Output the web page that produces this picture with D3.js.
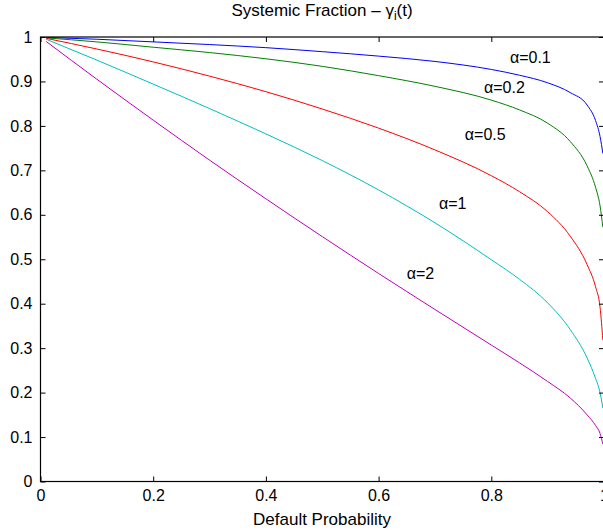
<!DOCTYPE html>
<html>
<head>
<meta charset="utf-8">
<script src="https://cdn.jsdelivr.net/npm/d3@7"></script>
<style>
  body { margin: 0; background: #fff; }
  svg text { font-family: "Liberation Sans", Arial, Helvetica, sans-serif; }
</style>
</head>
<body>
<svg width="603" height="531"></svg>
<script>
// default probability grid
var probs = [0.01, 0.1, 0.2, 0.3, 0.4, 0.5, 0.6, 0.7, 0.8, 0.85, 0.9, 0.94, 0.97, 0.985, 0.993, 0.998];

// systemic fraction for each alpha
var alpha01 = [0.999, 0.995, 0.989, 0.983, 0.976, 0.967, 0.957, 0.945, 0.927, 0.914, 0.897, 0.875, 0.847, 0.812, 0.776, 0.738];
var alpha02 = [0.998, 0.989, 0.977, 0.965, 0.951, 0.934, 0.913, 0.889, 0.858, 0.836, 0.806, 0.765, 0.710, 0.662, 0.620, 0.572];
var alpha05 = [0.997, 0.973, 0.944, 0.912, 0.877, 0.838, 0.795, 0.746, 0.688, 0.652, 0.607, 0.552, 0.488, 0.438, 0.392, 0.318];
var alpha1  = [0.995, 0.948, 0.894, 0.839, 0.782, 0.722, 0.656, 0.582, 0.499, 0.455, 0.402, 0.342, 0.278, 0.232, 0.200, 0.165];
var alpha2  = [0.990, 0.905, 0.813, 0.723, 0.636, 0.551, 0.468, 0.387, 0.307, 0.267, 0.225, 0.188, 0.150, 0.126, 0.108, 0.084];

var labels = ['\u03b1=0.1', '\u03b1=0.2', '\u03b1=0.5', '\u03b1=1', '\u03b1=2'];
var colors = ['#0000ff', '#008000', '#ff0000', '#00bfbf', '#bf00bf'];
// label anchor points in data units
var labelX = [0.833, 0.787, 0.753, 0.707, 0.65];
var labelY = [0.942, 0.873, 0.768, 0.614, 0.455];

var xTicks = [0, 0.2, 0.4, 0.6, 0.8, 1];
var yTicks = [0, 0.1, 0.2, 0.3, 0.4, 0.5, 0.6, 0.7, 0.8, 0.9, 1];

var series = [alpha01, alpha02, alpha05, alpha1, alpha2];

var svg = d3.select('svg');
// note: "top" is taken by window.top, so use plot* names
var plotL = 40.5, plotR = 604, plotT = 37, plotB = 481.5;

var x = d3.scaleLinear().domain([0, 1]).range([plotL, plotR]);
var y = d3.scaleLinear().domain([0, 1]).range([plotB, plotT]);

// curves
var line = d3.line()
  .x(function(d){ return x(d[0]); })
  .y(function(d){ return y(d[1]); })
  .curve(d3.curveMonotoneX);

svg.selectAll('path.curve').data(series).enter().append('path')
  .attr('class', 'curve')
  .attr('fill', 'none')
  .attr('stroke', function(d, i){ return colors[i]; })
  .attr('stroke-width', 1)
  .attr('d', function(d){ return line(d.map(function(v, j){ return [probs[j], v]; })); });

// axes, ticks pointing inward like matlab
var fmt = function(d){ return d3.format('~g')(d); };

svg.append('g').attr('transform', 'translate(0,' + plotB + ')')
  .call(d3.axisBottom(x).tickValues(xTicks).tickFormat(fmt).tickSize(-5).tickSizeOuter(0).tickPadding(8));
svg.append('g').attr('transform', 'translate(0,' + plotT + ')')
  .call(d3.axisTop(x).tickValues(xTicks).tickFormat('').tickSize(-5).tickSizeOuter(0));
svg.append('g').attr('transform', 'translate(' + plotL + ',0)')
  .call(d3.axisLeft(y).tickValues(yTicks).tickFormat(fmt).tickSize(-5).tickSizeOuter(0).tickPadding(8));
svg.append('g').attr('transform', 'translate(' + plotR + ',0)')
  .call(d3.axisRight(y).tickValues(yTicks).tickFormat('').tickSize(-5).tickSizeOuter(0));

svg.selectAll('.domain').remove();
svg.selectAll('.tick line').attr('stroke', '#000');
svg.selectAll('.tick text').attr('font-size', 16).attr('fill', '#000')
  .style('font-family', '"Liberation Sans", Arial, Helvetica, sans-serif');

// frame
svg.append('rect')
  .attr('x', plotL).attr('y', plotT)
  .attr('width', plotR - plotL).attr('height', plotB - plotT)
  .attr('fill', 'none').attr('stroke', '#000').attr('stroke-width', 1.2);

// curve labels
svg.selectAll('text.lab').data(labels).enter().append('text')
  .attr('class', 'lab')
  .attr('x', function(d, i){ return x(labelX[i]); })
  .attr('y', function(d, i){ return y(labelY[i]); })
  .attr('font-size', 16)
  .text(function(d){ return d; });

// title and x label
var title = svg.append('text')
  .attr('x', 322).attr('y', 16)
  .attr('text-anchor', 'middle')
  .attr('font-size', 17);
title.append('tspan').text('Systemic Fraction \u2013 \u03b3');
title.append('tspan').attr('font-size', 12).attr('dy', 4).text('i');
title.append('tspan').attr('dy', -4).text('(t)');

svg.append('text')
  .attr('x', 322).attr('y', 525)
  .attr('text-anchor', 'middle')
  .attr('font-size', 17)
  .text('Default Probability');
</script>
</body>
</html>
